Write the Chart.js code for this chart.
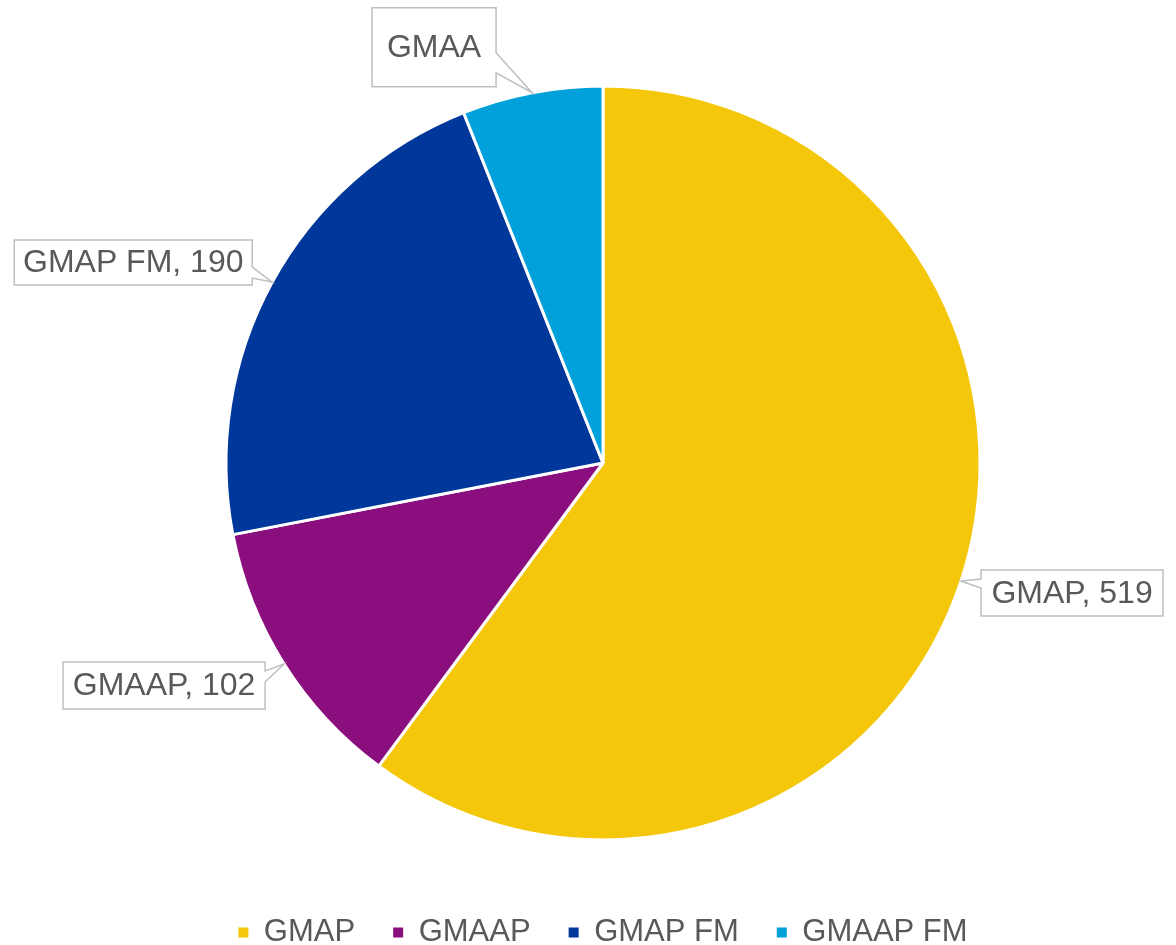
<!DOCTYPE html>
<html>
<head>
<meta charset="utf-8">
<title>GMAP programmes</title>
<script src="https://cdn.jsdelivr.net/npm/chart.js@4.4.1/dist/chart.umd.min.js"></script>
<style>
  html, body { margin: 0; padding: 0; background: #fff; overflow: hidden; }
  #wrap { position: relative; width: 1176px; height: 958px; }
</style>
</head>
<body>
<div id="wrap"><canvas id="pie"></canvas></div>
<script>
  // categories and values
  const CATEGORIES = ['GMAP', 'GMAAP', 'GMAP FM', 'GMAAP FM'];
  const VALUES = [519, 102, 190, 52];
  // text shown in each callout (the last one is cut off in the original)
  const CALLOUT_TEXT = ['GMAP, 519', 'GMAAP, 102', 'GMAP FM, 190', 'GMAA'];
  const COLORS = ['#F5C70A', '#8B0E7F', '#00379A', '#00A1DB'];

  const FONT = "'Liberation Sans', Arial, sans-serif";
  const TEXT_COLOR = '#595959';

  // callout box placement, relative to the leader tip on the slice edge
  // dx/dy = box top-left from tip, side = edge carrying the pointer, b0/b1 = pointer base from box top
  const CALLOUT_BOX = [
    { dx: 20,   dy: -11, w: 182, h: 46, side: 'left',  b0: 9,  b1: 18 },
    { dx: -221, dy: -2,  w: 202, h: 47, side: 'right', b0: 9,  b1: 20 },
    { dx: -258, dy: -42, w: 238, h: 45, side: 'right', b0: 27, b1: 38 },
    { dx: -160, dy: -85, w: 124, h: 79, side: 'right', b0: 45, b1: 65 },
  ];

  const calloutPlugin = {
    id: 'callouts',
    afterDatasetsDraw(chart) {
      const ctx = chart.ctx;
      const meta = chart.getDatasetMeta(0);
      meta.data.forEach(function (arc, i) {
        const p = arc.getProps(['x', 'y', 'startAngle', 'endAngle', 'outerRadius'], true);
        const mid = (p.startAngle + p.endAngle) / 2;
        const tx = p.x + Math.cos(mid) * p.outerRadius;
        const ty = p.y + Math.sin(mid) * p.outerRadius;
        const b = CALLOUT_BOX[i];
        const left = tx + b.dx, top = ty + b.dy;
        const right = left + b.w, bottom = top + b.h;

        ctx.save();
        ctx.beginPath();
        ctx.moveTo(left, top);
        ctx.lineTo(right, top);
        if (b.side === 'right') {
          ctx.lineTo(right, top + b.b0);
          ctx.lineTo(tx, ty);
          ctx.lineTo(right, top + b.b1);
        }
        ctx.lineTo(right, bottom);
        ctx.lineTo(left, bottom);
        if (b.side === 'left') {
          ctx.lineTo(left, top + b.b1);
          ctx.lineTo(tx, ty);
          ctx.lineTo(left, top + b.b0);
        }
        ctx.closePath();
        ctx.fillStyle = '#fff';
        ctx.fill();
        ctx.lineWidth = 1.5;
        ctx.strokeStyle = '#BFBFBF';
        ctx.stroke();

        ctx.fillStyle = TEXT_COLOR;
        ctx.font = '32px ' + FONT;
        ctx.textAlign = 'center';
        ctx.textBaseline = 'middle';
        ctx.fillText(CALLOUT_TEXT[i], (left + right) / 2, (top + bottom) / 2 + 1);
        ctx.restore();
      });
    },
  };

  new Chart(document.getElementById('pie'), {
    type: 'pie',
    data: {
      labels: CATEGORIES,
      datasets: [{
        data: VALUES,
        backgroundColor: COLORS,
        borderColor: '#fff',
        borderWidth: 3,
      }],
    },
    options: {
      responsive: true,
      maintainAspectRatio: false,
      animation: false,
      radius: 377,
      layout: { padding: { top: 47, left: 30, right: 0, bottom: 0 } },
      plugins: {
        legend: {
          position: 'bottom',
          labels: {
            boxWidth: 10,
            boxHeight: 10,
            padding: 38,
            color: TEXT_COLOR,
            font: { size: 31, family: FONT },
            generateLabels: function (chart) {
              // plain squares, without the white slice border around them
              const items = Chart.overrides.pie.plugins.legend.labels.generateLabels(chart);
              items.forEach(function (it) { it.lineWidth = 0; });
              return items;
            },
          },
        },
        tooltip: { enabled: false },
      },
    },
    plugins: [calloutPlugin],
  });
</script>
</body>
</html>
